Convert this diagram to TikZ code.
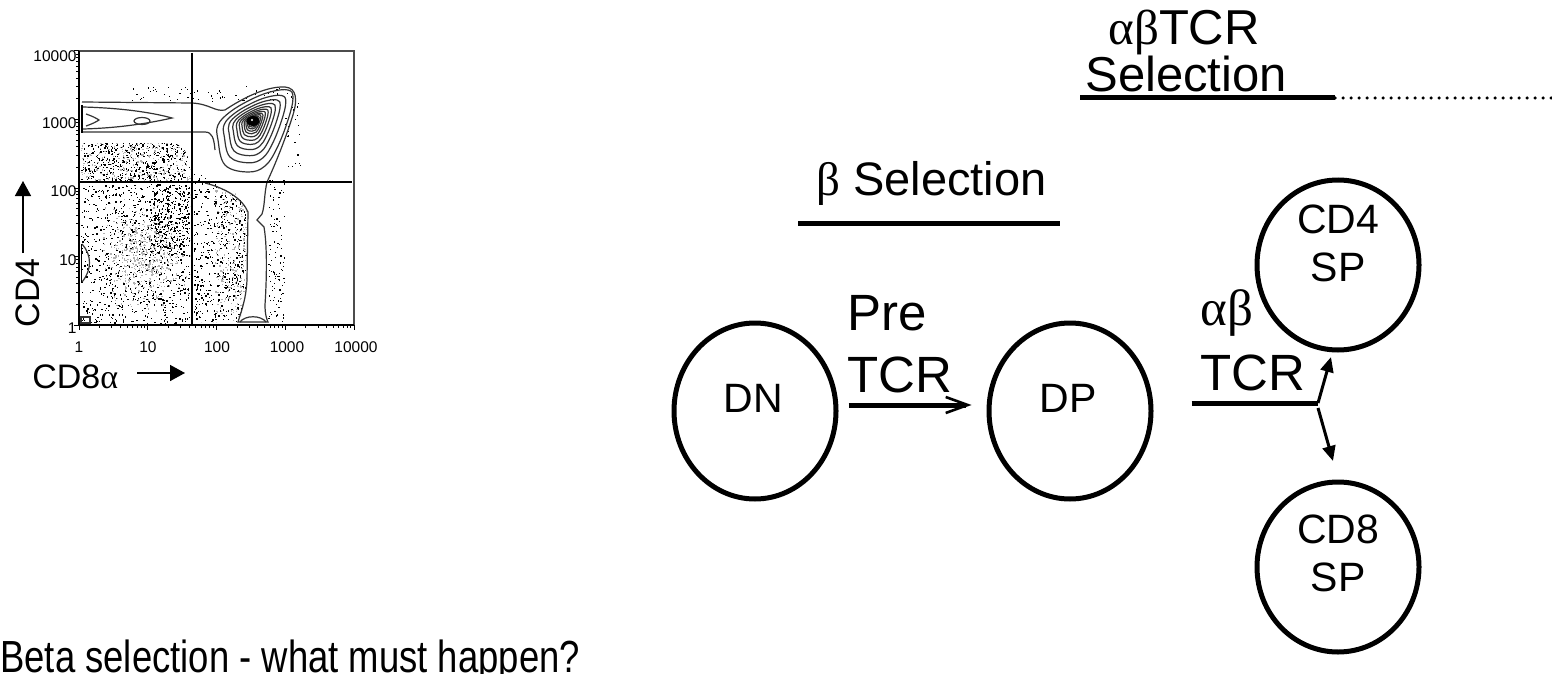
\documentclass[tikz,border=0pt]{standalone}
\usepackage{graphicx}
\usepackage{fontspec}
\setmainfont{Liberation Sans}
\newfontfamily\greekfont{Liberation Serif}
\usetikzlibrary{shapes.geometric,arrows.meta,calc}

\newcommand{\gk}[1]{{\greekfont #1}}

\tikzset{
  cell/.style={ellipse, draw, line width=2.5pt, inner sep=0pt, minimum width=81pt},
  celltext/.style={inner sep=0pt, align=center, font=\fontsize{20.5}{24}\selectfont},
  arrowlbl/.style={inner sep=0pt, anchor=base west, font=\fontsize{25.5}{30}\selectfont},
  sellbl/.style={inner sep=0pt, anchor=base west, font=\fontsize{23.5}{28}\selectfont},
  toplbl/.style={inner sep=0pt, anchor=base west, font=\fontsize{24.5}{29}\selectfont},
  bar/.style={line width=2.5pt},
  dotline/.style={line width=1.75pt, line cap=round, dash pattern=on 0pt off 4pt},
  split/.style={line width=1.5pt, -{Triangle[length=7.5pt,width=6.5pt]}},
  axlbl/.style={inner sep=0pt, font=\fontsize{17}{20}\selectfont},
  ticklbl/.style={inner sep=0pt, font=\fontsize{7.75}{9}\selectfont},
  axarrow/.style={line width=0.8pt, -{Triangle[length=7.5pt,width=8pt]}},
  gate/.style={line width=1pt},
  cont/.style={gray!40!black, line width=0.6pt},
  dk/.style={fill=black},
  lt/.style={fill=gray!60},
}

\begin{document}
\begin{tikzpicture}[x=0.5pt,y=-0.5pt]
\useasboundingbox (0,0) rectangle (1552,674);

% ---------------- flow cytometry plot: CD8a vs CD4 ----------------
\pgfmathsetseed{271}
% lower-left quadrant (double negative cloud)
\begin{scope}
  \clip (81,184) rectangle (190,323);
  \foreach \i in {1,...,850}{
    \pgfmathsetmacro\px{81+109*rnd}
    \pgfmathsetmacro\py{184+139*rnd}
    \fill[dk] (\px,\py) rectangle ++(1.3,1.3);
  }
  \foreach \i in {1,...,550}{
    \pgfmathsetmacro\px{100+90*(rnd+rnd)/2}
    \pgfmathsetmacro\py{184+139*(rnd+rnd+rnd)/3}
    \fill[lt] (\px,\py) rectangle ++(1.3,1.3);
  }
  \foreach \i in {1,...,260}{
    \pgfmathsetmacro\px{150+40*rnd}
    \pgfmathsetmacro\py{184+70*rnd}
    \fill[dk] (\px,\py) rectangle ++(1.3,1.3);
  }
\end{scope}
% upper-left cloud below the CD4 band
\begin{scope}
  \clip (81,143) -- (172,143) .. controls (186,145) and (190,156) .. (191,181) -- (81,181) -- cycle;
  \foreach \i in {1,...,480}{
    \pgfmathsetmacro\px{81+110*rnd}
    \pgfmathsetmacro\py{142+40*rnd}
    \fill[dk] (\px,\py) rectangle ++(1.3,1.3);
  }
  \foreach \i in {1,...,250}{
    \pgfmathsetmacro\px{81+110*rnd}
    \pgfmathsetmacro\py{142+40*rnd}
    \fill[lt] (\px,\py) rectangle ++(1.3,1.3);
  }
\end{scope}
% cloud between DN and the CD8 strip
\begin{scope}
  \clip (193,170) -- (200,172) .. controls (206,178) and (210,182) .. (215,184)
        .. controls (232,188) and (242,196) .. (247,212) -- (247,275)
        .. controls (246,295) and (242,310) .. (240,322) -- (193,322) -- cycle;
  \foreach \i in {1,...,520}{
    \pgfmathsetmacro\px{193+55*rnd}
    \pgfmathsetmacro\py{170+152*rnd}
    \fill[dk] (\px,\py) rectangle ++(1.3,1.3);
  }
  \foreach \i in {1,...,260}{
    \pgfmathsetmacro\px{215+33*rnd}
    \pgfmathsetmacro\py{185+137*rnd}
    \fill[lt] (\px,\py) rectangle ++(1.3,1.3);
  }
\end{scope}
% sparse events right of the CD8 strip and around the DP population
\foreach \i in {1,...,110}{
  \pgfmathsetmacro\px{268+16*rnd}
  \pgfmathsetmacro\py{178+144*rnd}
  \fill[dk] (\px,\py) rectangle ++(1.2,1.2);
}
\foreach \i in {1,...,60}{
  \pgfmathsetmacro\px{130+160*rnd}
  \pgfmathsetmacro\py{86+15*rnd}
  \fill[dk] (\px,\py) rectangle ++(1.2,1.2);
}
\foreach \i in {1,...,25}{
  \pgfmathsetmacro\px{284+18*rnd}
  \pgfmathsetmacro\py{95+75*rnd}
  \fill[dk] (\px,\py) rectangle ++(1.2,1.2);
}

% contour lines
\draw[cont] (82,102) -- (192,103) .. controls (210,104) and (215,112) .. (225,110)
  .. controls (240,100) and (265,86) .. (285,87) .. controls (297,88) and (298,100) .. (292,118)
  .. controls (285,140) and (275,165) .. (267,182) .. controls (264,195) and (265,205) .. (262,214)
  -- (257,220) -- (264,227) .. controls (268,250) and (266,290) .. (265,305)
  .. controls (265,315) and (267,320) .. (268,322) -- (238,322)
  .. controls (241,312) and (246,300) .. (247,280) -- (248,212)
  .. controls (242,198) and (225,188) .. (205,183);
\draw[cont] (82,132) -- (205,132) .. controls (212,132) and (214,138) .. (215,150);
\draw[cont] (83,107) .. controls (120,108) and (150,112) .. (172,118)
  .. controls (150,123) and (120,128) .. (83,129);
\draw[cont] (142,121) ellipse [x radius=8, y radius=3.5];
\draw[cont] (86,114) .. controls (92,116) and (96,118) .. (99,120) .. controls (96,122) and (92,124) .. (86,126);
\draw[cont] (240,322) .. controls (245,315) and (261,315) .. (266,322);
\foreach \s in {1,0.82,0.68,0.56,0.46,0.38,0.31,0.25,0.2,0.155,0.12}{
  \draw[cont, shift={(253,121)}, scale=\s]
    plot[smooth cycle, tension=0.65] coordinates
    {(-35,19) (-28,44) (-5,51) (12,45) (24,27) (35,-1) (40,-23) (35,-31) (17,-29) (-3,-21) (-23,-9) (-35,4)};
}
\fill[black] (253,121) ellipse [x radius=6.5, y radius=5];
\fill[white] (252,120) circle (1.2);
\draw[line width=1.2pt] (82,105) -- (82,133);
\draw[cont] (82,244) .. controls (92,255) and (92,270) .. (82,282);
\draw[line width=0.9pt] (81.5,244) -- (81.5,282);
\draw[cont] (81,317) rectangle (90,323);

% axes box and tick marks
\draw[gray!60!black, line width=0.8pt] (79,51) -- (354,51) -- (354,325);
\draw[line width=0.8pt] (79,51) -- (79,325) -- (354,325);
\foreach \d in {0,1,2,3}{
  \foreach \m in {1,...,9}{
    \pgfmathsetmacro\tl{\m==1 ? 5 : 3}
    \pgfmathsetmacro\yy{325-68.5*(\d+log10(\m))}
    \pgfmathsetmacro\xx{79+68.75*(\d+log10(\m))}
    \draw[line width=0.5pt] (79,\yy) -- ++(-\tl,0);
    \draw[line width=0.5pt] (\xx,325) -- ++(0,\tl);
  }
}
\draw[line width=0.5pt] (79,51) -- ++(-5,0);
\draw[line width=0.5pt] (354,325) -- ++(0,5);

% quadrant gates
\draw[gate] (192,53) -- (192,325);
\draw[gate] (79,182) -- (352,182);

% tick labels
\node[ticklbl, anchor=east] (y4) at (77,56) {10000};
\node[ticklbl, anchor=east] (y3) at (77,123) {1000};
\node[ticklbl, anchor=east] (y2) at (77,191) {100};
\node[ticklbl, anchor=east] (y1) at (77,260) {10};
\node[ticklbl, anchor=east] (y0) at (77,328) {1};
\node[ticklbl] (x0) at (79,347) {1};
\node[ticklbl] (x1) at (148,347) {10};
\node[ticklbl] (x2) at (217,347) {100};
\node[ticklbl] (x3) at (287,347) {1000};
\node[ticklbl] (x4) at (356,347) {10000};

% axis titles
\node[axlbl, rotate=90] (cd4ax) at (28,293) {CD4};
\coordinate (cd4a) at (23,253);
\coordinate (cd4b) at (23,181);
\draw[axarrow] (cd4a) -- (cd4b);
\node[axlbl, anchor=base west] (cd8ax) at (32,388) {CD8\gk{α}};
\coordinate (cd8a) at (137,373);
\coordinate (cd8b) at (185,373);
\draw[axarrow] (cd8a) -- (cd8b);

% ---------------- thymocyte development scheme ----------------
\node[cell, minimum height=88pt] (DN) at (755,411) {};
\node[cell, minimum height=88pt] (DP) at (1070,411) {};
\node[cell, minimum height=85pt] (CD4SP) at (1338,265) {};
\node[cell, minimum height=85pt] (CD8SP) at (1338,567) {};
\node[celltext] (DNt) at (753,398) {DN};
\node[celltext] (DPt) at (1068,398) {DP};
\node[celltext] (CD4t) at (1338,243) {CD4\\SP};
\node[celltext] (CD8t) at (1338,553) {CD8\\SP};

% pre-TCR step
\node[arrowlbl] (pre) at (847,330) {Pre};
\node[arrowlbl] (pretcr) at (847,392) {TCR};
\draw[bar, -{Straight Barb[length=11pt,width=8pt,line width=1.3pt]}]
  ([xshift=5pt,yshift=3pt]DN.east) -- ([xshift=-7.5pt,yshift=3pt]DP.west);

% alpha-beta TCR step with the CD4 / CD8 branch
\node[arrowlbl] (ab) at (1200,325) {\gk{αβ}};
\node[arrowlbl] (abtcr) at (1200,390) {TCR};
\coordinate (J) at (1318,403);
\coordinate (J2) at (1318,408);
\coordinate (t4) at (1331,357);
\coordinate (t8) at (1333,461);
\draw[bar] ([xshift=19pt,yshift=4pt]DP.east) -- (J);
\draw[split] (J) -- (t4);
\draw[split] (J2) -- (t8);

% selection headings
\node[sellbl] (bsel) at (816,195) {\gk{β} Selection};
\coordinate (bs1) at (798,223);
\coordinate (bs2) at (1060,223);
\draw[bar] (bs1) -- (bs2);

\node[toplbl] (absel) at (1108,45) {\gk{αβ}TCR};
\node[toplbl] (absel2) at (1085,92) {Selection};
\coordinate (as1) at (1080,98);
\coordinate (as2) at (1335,98);
\coordinate (as3) at (1552,98);
\draw[bar] (as1) -- (as2);
\draw[dotline] ([xshift=-12pt]as2) -- (as3);

% question
\node[inner sep=0pt, anchor=base west] (question) at (0,672)
  {\scalebox{0.81}[1]{\fontsize{22.5}{27}\selectfont Beta selection - what must happen?}};
\end{tikzpicture}
\end{document}
